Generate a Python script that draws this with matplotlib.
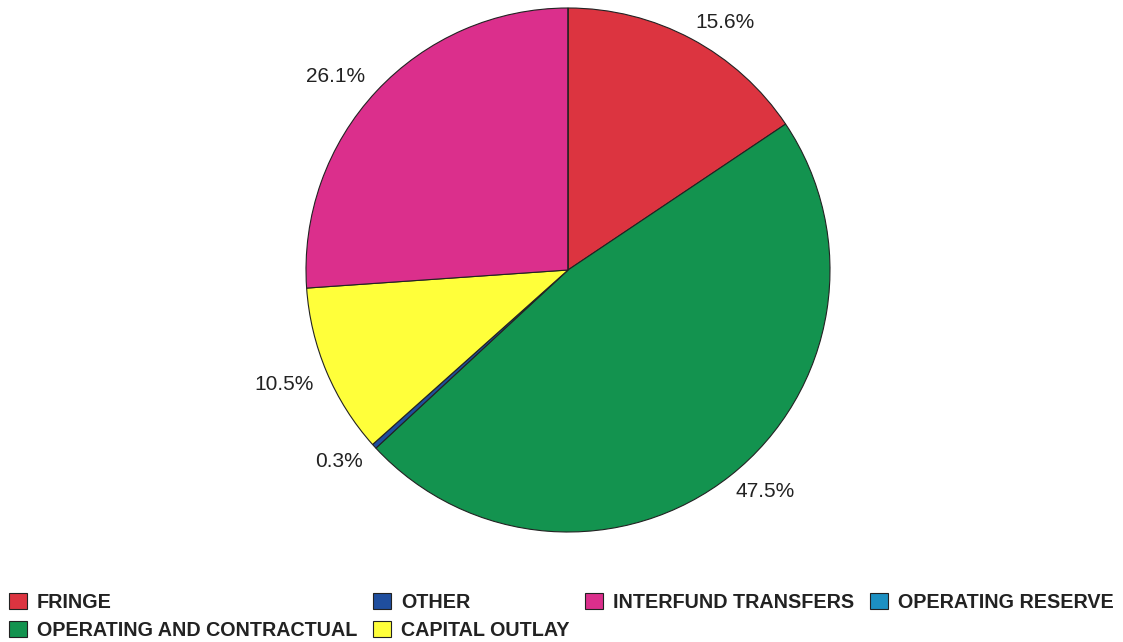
import numpy as np
import matplotlib.pyplot as plt

# expenditure shares (%)
categories = ['FRINGE', 'OPERATING AND CONTRACTUAL', 'OTHER', 'CAPITAL OUTLAY',
              'INTERFUND TRANSFERS', 'OPERATING RESERVE']
shares = [15.6, 47.5, 0.3, 10.5, 26.1, 0.0]
colors = ['#DC3440', '#13934F', '#1F4E9E', '#FFFF3A', '#DB2F8C', '#1C90C2']

plt.rcParams['font.family'] = ['Liberation Sans', 'DejaVu Sans']

fig = plt.figure(figsize=(11.23, 6.42), dpi=100)
# pie axes: centre ~(568,270), radius ~262 px
cx, cy, r = 568, 270, 262
ax = fig.add_axes([(cx - r) / 1123, (642 - (cy + r)) / 642, 2 * r / 1123, 2 * r / 642])


def pct_label(p):
    if p < 0.05:
        return ''
    return '%.1f%%' % p


wedges, texts, autotexts = ax.pie(shares, colors=colors, startangle=90, counterclock=False,
                                  autopct=pct_label, radius=1,
                                  wedgeprops=dict(edgecolor='#222222', linewidth=0.8))
# excel style: label corner sits just outside the wedge mid angle
for w, t in zip(wedges, autotexts):
    ang = np.deg2rad((w.theta1 + w.theta2) / 2.0)
    x, y = 1.03 * np.cos(ang), 1.03 * np.sin(ang)
    if x < 0:
        x = x - 0.02
    t.set_position((x, y))
    t.set_ha('left' if x > 0 else 'right')
    t.set_va('bottom' if y > 0 else 'top')
    t.set_fontsize(15)
    t.set_color('#222222')
ax.set_xlim(-1, 1)
ax.set_ylim(-1, 1)
ax.set_aspect('equal')
ax.axis('off')

leg = fig.legend(wedges, categories, loc='lower left', bbox_to_anchor=(-0.004, -0.018),
                 ncol=4, frameon=False, handlelength=0.91, handleheight=0.91,
                 handletextpad=0.5, columnspacing=0.8, labelspacing=0.45,
                 borderaxespad=0.3, prop=dict(weight='bold', size=14.2))
for t in leg.get_texts():
    t.set_color('#222222')

fig.savefig('out.png', dpi=100)
